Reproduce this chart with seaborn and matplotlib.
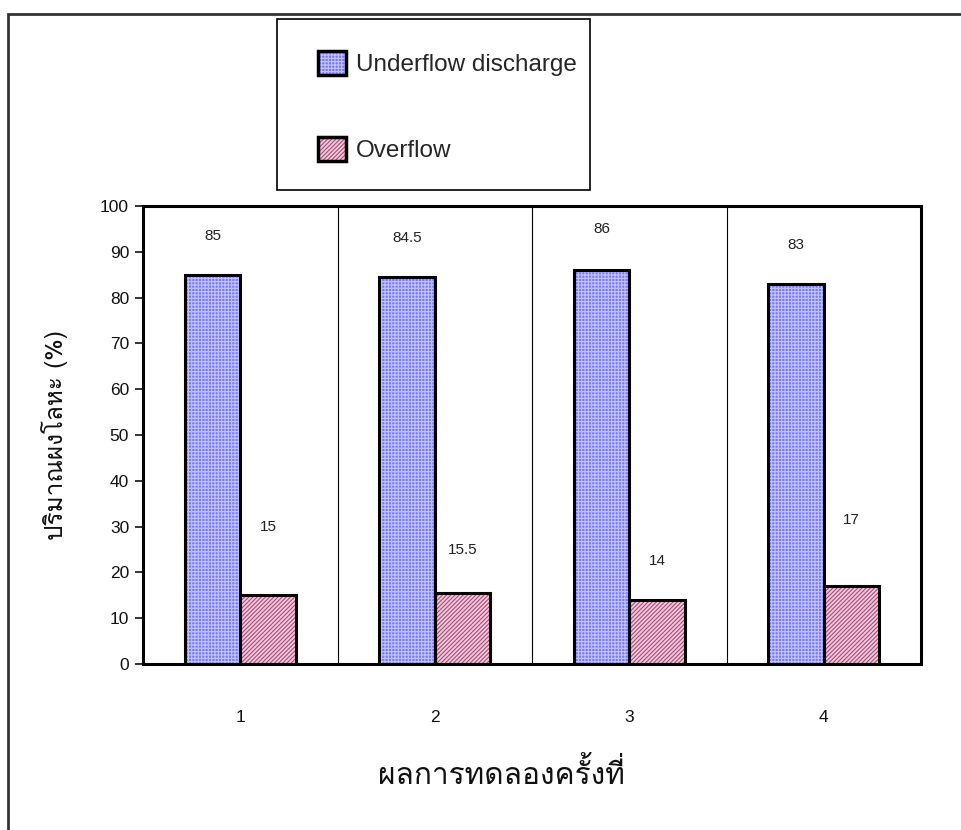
import matplotlib
matplotlib.use("Agg")
import matplotlib.pyplot as plt
from matplotlib.patches import Patch, Rectangle
from matplotlib.legend_handler import HandlerTuple
import pandas as pd
import seaborn as sns

# data
trials = ["1", "2", "3", "4"]
underflow = [85, 84.5, 86, 83]
overflow = [15, 15.5, 14, 17]
series_names = ["Underflow discharge", "Overflow"]
# where the value labels sit above each bar (moved by hand in the original)
label_pad_under = [8.5, 8.5, 9.0, 8.5]
label_pad_over = [15.0, 9.5, 8.5, 14.5]

df = pd.DataFrame({
    "trial": trials * 2,
    "value": underflow + overflow,
    "series": [series_names[0]] * 4 + [series_names[1]] * 4,
})

sns.set_style("white")
plt.rcParams["font.family"] = ["Liberation Sans", "Loma", "DejaVu Sans"]
plt.rcParams["hatch.linewidth"] = 0.8
thai_font = ["Loma", "Liberation Sans", "DejaVu Sans"]

face = ["#7878ff", "#eccbdc"]
hatch_col = ["#c4c4ff", "#b04878"]
hatches = ["+++++", "////////"]

fig = plt.figure(figsize=(9.62, 8.3), dpi=100)
ax = fig.add_axes([143 / 962, 1 - 664 / 830, 778 / 962, 458 / 830])

sns.barplot(data=df, x="trial", y="value", hue="series", palette=face,
            saturation=1, width=0.57, ax=ax, legend=False)

# hatch colour follows edgecolor, so draw the black outline on top separately
for i, cont in enumerate(ax.containers):
    for p in cont.patches:
        p.set_edgecolor(hatch_col[i])
        p.set_hatch(hatches[i])
        p.set_linewidth(0)
        ax.add_patch(Rectangle(p.get_xy(), p.get_width(), p.get_height(),
                               fill=False, ec="black", lw=2.2, zorder=3))

# value labels
pads = [label_pad_under, label_pad_over]
vals = [underflow, overflow]
for i, cont in enumerate(ax.containers):
    for j, p in enumerate(cont.patches):
        ax.text(p.get_x() + p.get_width() / 2, vals[i][j] + pads[i][j],
                f"{vals[i][j]:g}", ha="center", va="center", fontsize=11, color="#222222")

# vertical separators between trials
for k in range(len(trials) - 1):
    ax.axvline(k + 0.5, color="black", lw=0.8, zorder=1)

ax.set_xlim(-0.5, len(trials) - 0.5)
ax.set_ylim(0, 100)
ax.set_yticks(range(0, 101, 10))
ax.tick_params(axis="y", direction="out", length=6, width=1.2, labelsize=12.5,
               left=True, pad=4, colors="#111111")
ax.tick_params(axis="x", length=0, labelsize=12.5, pad=33, colors="#111111")
for s in ax.spines.values():
    s.set_visible(True)
    s.set_linewidth(2.2)
    s.set_color("black")

ax.set_ylabel("ปริมาณผงโลหะ (%)", fontsize=17.5, labelpad=23, family=thai_font,
              color="#111111")
ax.set_xlabel("ผลการทดลองครั้งที่", fontsize=21.5, labelpad=24, family=thai_font,
              x=0.461, color="#111111")

# legend in its own box
handles = [(Patch(fc=face[i], ec=hatch_col[i], hatch=hatches[i], lw=0),
            Patch(fill=False, ec="black", lw=2.5)) for i in range(2)]
fig.legend(handles, series_names, handler_map={tuple: HandlerTuple(ndivide=1)},
           loc="upper left", bbox_to_anchor=(318 / 962, 1 - 51 / 830), frameon=False,
           fontsize=17.5, handlelength=1.15, handleheight=1.15, handletextpad=0.4,
           labelspacing=2.5, borderpad=0, borderaxespad=0)
fig.patches.append(Rectangle((277 / 962, 1 - 190 / 830), 313 / 962, 171 / 830,
                             transform=fig.transFigure, fill=False, ec="black", lw=1.2))

# outer frame of the original sheet
fig.patches.append(Rectangle((8 / 962, -0.1), 1.2, 1.1 - 14 / 830,
                             transform=fig.transFigure, fill=False, ec="#333333", lw=2))

fig.savefig("out.png", dpi=100)
